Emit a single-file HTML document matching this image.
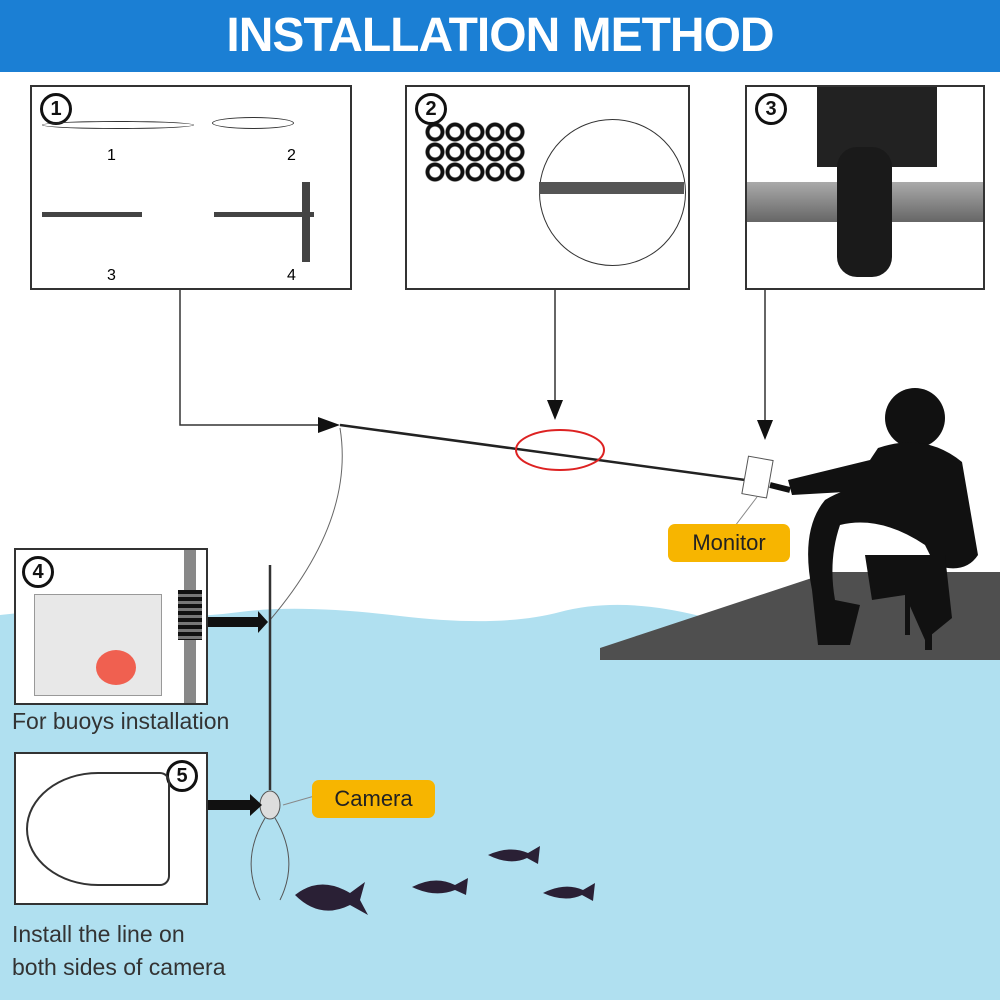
<!DOCTYPE html>
<html><head><meta charset="utf-8"><style>
body{margin:0;width:1000px;height:1000px;overflow:hidden;background:#fff;font-family:"Liberation Sans",sans-serif;position:relative}
.hdr{position:absolute;left:0;top:0;width:1000px;height:72px;background:#1b7fd4;color:#fff;font-weight:bold;font-size:48px;text-align:center;line-height:72px;letter-spacing:-1px}
.box{position:absolute;border:2px solid #333;background:#fff;box-sizing:border-box}
.num{position:absolute;width:26px;height:26px;border:3px solid #111;border-radius:50%;font-weight:bold;font-size:20px;text-align:center;line-height:26px;color:#111}
.lbl{position:absolute;background:#f7b500;color:#222;font-size:22px;border-radius:7px;text-align:center}
.txt{position:absolute;font-size:23px;color:#333}
</style></head><body>
<svg width="1000" height="1000" style="position:absolute;left:0;top:0">
<path d="M0 615 Q60 608 120 614 T240 612 T400 616 T560 612 T700 616 T850 610 T1000 614 L1000 1000 L0 1000Z" fill="#b0e0f0"/>
<polygon points="600,648 830,572 1000,572 1000,660 600,660" fill="#4f4f4f"/>
<!-- fisherman -->
<g fill="#111">
<circle cx="915" cy="418" r="30"/>
<path d="M878 448 Q925 432 962 462 L978 555 Q965 575 935 565 L925 545 Q880 515 840 525 Q828 560 835 600 L860 605 L850 645 L818 645 L812 590 Q800 530 825 500 Q855 482 880 490 L792 495 L788 480 L870 460Z"/>
<path d="M865 555 L945 555 L952 618 L925 640 L905 595 L872 600Z"/>
<rect x="925" y="605" width="7" height="45"/>
<rect x="905" y="585" width="5" height="50"/>
</g>
<!-- connectors -->
<g stroke="#333" stroke-width="1.5" fill="none">
<polyline points="180,290 180,425 325,425"/>
<line x1="555" y1="290" x2="555" y2="405"/>
<line x1="765" y1="290" x2="765" y2="425"/>
</g>
<polygon points="318,417 340,425 318,433" fill="#111"/>
<polygon points="547,400 555,420 563,400" fill="#111"/>
<polygon points="757,420 765,440 773,420" fill="#111"/>
<line x1="340" y1="425" x2="760" y2="482" stroke="#222" stroke-width="2.5"/>
<ellipse cx="560" cy="450" rx="44" ry="20" fill="none" stroke="#d22" stroke-width="2"/>
<rect x="745" y="458" width="25" height="38" fill="#fff" stroke="#555" transform="rotate(10 757 477)"/>
<line x1="770" y1="485" x2="790" y2="490" stroke="#111" stroke-width="6"/>
<line x1="757" y1="497" x2="735" y2="526" stroke="#888"/>
<path d="M340 428 Q355 520 270 620" stroke="#666" fill="none"/>
<line x1="270" y1="565" x2="270" y2="790" stroke="#333" stroke-width="2.5"/>
<ellipse cx="270" cy="805" rx="10" ry="14" fill="#ddd" stroke="#555"/>
<path d="M265 818 Q240 860 260 900 M275 818 Q300 860 280 900" stroke="#555" fill="none"/>
<line x1="283" y1="805" x2="318" y2="795" stroke="#888"/>
<polygon points="208,617 258,617 258,611 268,622 258,633 258,627 208,627" fill="#111"/>
<polygon points="208,800 250,800 250,794 262,805 250,816 250,810 208,810" fill="#111"/>
<g fill="#2a2035">
<path d="M295 895 Q320 875 350 893 L365 882 L360 900 L368 915 L350 905 Q320 920 295 895Z"/>
<path d="M412 887 Q435 875 455 885 L468 878 L466 895 L455 890 Q435 898 412 887Z"/>
<path d="M488 855 Q510 845 528 853 L540 846 L538 864 L527 858 Q510 866 488 855Z"/>
<path d="M543 893 Q565 882 583 890 L595 883 L593 901 L582 895 Q565 903 543 893Z"/>
</g>
</svg>
<div class="hdr">INSTALLATION METHOD</div>
<div class="box" style="left:30px;top:85px;width:322px;height:205px">
<div class="num" style="left:8px;top:6px">1</div>
<div style="position:absolute;left:10px;top:34px;width:150px;height:6px;border:1px solid #333;border-radius:50%"></div>
<div style="position:absolute;left:180px;top:30px;width:80px;height:10px;border:1px solid #333;border-radius:50%"></div>
<div style="position:absolute;left:10px;top:125px;width:100px;height:5px;background:#444"></div>
<div style="position:absolute;left:182px;top:125px;width:100px;height:5px;background:#444"></div>
<div style="position:absolute;left:270px;top:95px;width:8px;height:80px;background:#444"></div>
<div style="position:absolute;left:75px;top:60px;font-size:16px">1</div>
<div style="position:absolute;left:255px;top:60px;font-size:16px">2</div>
<div style="position:absolute;left:75px;top:180px;font-size:16px">3</div>
<div style="position:absolute;left:255px;top:180px;font-size:16px">4</div>
</div>
<div class="box" style="left:405px;top:85px;width:285px;height:205px">
<div class="num" style="left:8px;top:6px">2</div>
<div style="position:absolute;left:132px;top:32px;width:145px;height:145px;border:1.5px solid #333;border-radius:50%"></div>
<div style="position:absolute;left:132px;top:95px;width:145px;height:12px;background:#555"></div>
<div style="position:absolute;left:18px;top:35px;width:100px;height:60px;background:radial-gradient(circle,#fff 5px,#111 6px,#111 9px,transparent 10px) 0 0/20px 20px"></div>
</div>
<div class="box" style="left:745px;top:85px;width:240px;height:205px">
<div class="num" style="left:8px;top:6px">3</div>
<div style="position:absolute;left:0;top:95px;width:236px;height:40px;background:linear-gradient(#aaa,#666)"></div>
<div style="position:absolute;left:70px;top:0;width:120px;height:80px;background:#222"></div>
<div style="position:absolute;left:90px;top:60px;width:55px;height:130px;background:#1a1a1a;border-radius:20px"></div>
</div>
<div class="box" style="left:14px;top:548px;width:194px;height:157px">
<div class="num" style="left:6px;top:6px">4</div>
<div style="position:absolute;left:18px;top:44px;width:126px;height:100px;border:1px solid #999;background:#e8e8e8"></div>
<div style="position:absolute;left:80px;top:100px;width:40px;height:35px;border-radius:50%;background:#f06050"></div>
<div style="position:absolute;left:168px;top:0;width:12px;height:153px;background:#888"></div>
<div style="position:absolute;left:162px;top:40px;width:24px;height:50px;background:repeating-linear-gradient(#111 0 4px,#777 4px 7px)"></div>
</div>
<div class="txt" style="left:12px;top:708px">For buoys installation</div>
<div class="box" style="left:14px;top:752px;width:194px;height:153px">
<div class="num" style="left:150px;top:6px">5</div>
<div style="position:absolute;left:10px;top:18px;width:140px;height:110px;border:2px solid #333;border-radius:50% 10px 10px 50%"></div>
</div>
<div class="txt" style="left:12px;top:918px;line-height:33px">Install the line on<br>both sides of camera</div>
<div class="lbl" style="left:668px;top:524px;width:122px;height:38px;line-height:38px">Monitor</div>
<div class="lbl" style="left:312px;top:780px;width:123px;height:38px;line-height:38px">Camera</div>
</body></html>
